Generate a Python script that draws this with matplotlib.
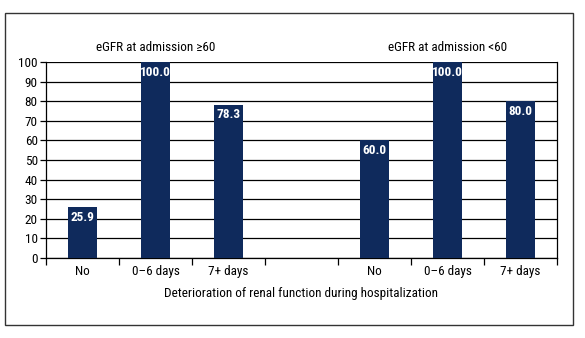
import matplotlib.pyplot as plt
from matplotlib.patches import Rectangle

# ---- Data ----
categories = ['No', '0–6 days', '7+ days', '', 'No', '0–6 days', '7+ days']
values_high = [25.9, 100.0, 78.3]
values_low = [60.0, 100.0, 80.0]
group_titles = ['eGFR at admission ≥60', 'eGFR at admission <60']
yticks = list(range(0, 101, 10))

plt.rcParams['font.family'] = ['Roboto Condensed', 'DejaVu Sans']
bar_color = '#0f2a5c'
fs = 9.5

fig = plt.figure(figsize=(5.85, 3.38), dpi=100)
ax = fig.add_axes([46 / 585, 80 / 338, 511 / 585, 196 / 338])

# outer frame
fig.patches.append(Rectangle((5 / 585, 13 / 338), 568 / 585, 312 / 338,
                             transform=fig.transFigure, fill=False,
                             edgecolor='#333333', linewidth=1.0))

values = values_high + [None] + values_low
xs = [i for i, v in enumerate(values) if v is not None]
vs = [v for v in values if v is not None]

ax.set_axisbelow(True)
ax.grid(axis='y', color='black', linewidth=0.9)
bars = ax.bar(xs, vs, width=0.41, color=bar_color, zorder=3)
for b, v in zip(bars, vs):
    ax.annotate(f'{v:.1f}', (b.get_x() + b.get_width() / 2, v),
                xytext=(0, -7.5), textcoords='offset points',
                ha='center', va='center', color='white',
                fontsize=fs, fontweight='bold', zorder=4)

ax.set_xlim(-0.5, len(categories) - 0.5)
ax.set_ylim(0, 100)
ax.set_yticks(yticks)
ax.tick_params(axis='y', length=4, labelsize=fs, pad=2, width=0.9)

# category labels between boundary ticks
ax.set_xticks([i - 0.5 for i in range(len(categories) + 1)])
ax.set_xticklabels([])
ax.tick_params(axis='x', length=5, width=0.9)
for i, c in enumerate(categories):
    ax.text(i, -3.5, c, ha='center', va='top', fontsize=fs)

ax.spines['top'].set_visible(False)
for sp in ['left', 'right', 'bottom']:
    ax.spines[sp].set_linewidth(0.9)

ax.text(1, 104, group_titles[0], ha='center', va='bottom', fontsize=fs)
ax.text(5, 104, group_titles[1], ha='center', va='bottom', fontsize=fs)

fig.text(301.5 / 585, 1 - 293 / 338, 'Deterioration of renal function during hospitalization',
         ha='center', va='center', fontsize=fs)

fig.savefig('out.png', dpi=100)
